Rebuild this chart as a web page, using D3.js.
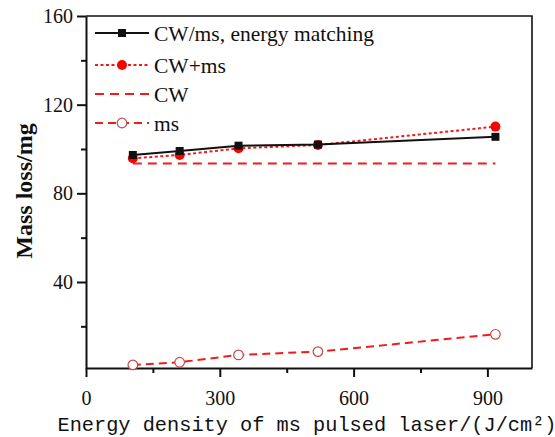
<!DOCTYPE html>
<html lang="en">
<head>
<meta charset="UTF-8">
<title>Mass loss vs energy density</title>
<script src="https://d3js.org/d3.v7.min.js"></script>
<style>
  body { margin: 0; background: #fff; }
  svg { display: block; }
  .tick text { font-family: "Liberation Serif", "Times New Roman", serif; font-size: 20px; fill: #111; }
  .legend text { font-family: "Liberation Serif", "Times New Roman", serif; font-size: 21.5px; fill: #111; }
</style>
</head>
<body>
<svg width="555" height="437"></svg>
<script>
// energy density of ms laser (J/cm2)
const energy = [105, 210, 342, 520, 918];
const cwMsMatching = [97.3, 99.1, 101.5, 102.0, 105.5];
const cwPlusMs = [95.8, 97.3, 100.3, 101.8, 110.1];
const cwOnly = [93.5, 93.5, 93.5, 93.5, 93.5];
const msOnly = [2.6, 3.8, 7.1, 8.6, 16.4];

const xTicks = [0, 300, 600, 900];
const yTicks = [40, 80, 120, 160];

const width = 555, height = 437;
const margin = { top: 16, right: 23, bottom: 69, left: 86 };

const svg = d3.select("svg");

const x = d3.scaleLinear().domain([0, 1000]).range([margin.left, width - margin.right]);
const y = d3.scaleLinear().domain([1.2, 160]).range([height - margin.bottom, margin.top]);

const red = "#f21b1b";

// frame (top + right)
svg.append("path")
    .attr("d", `M${x(0)},${y(160)}H${x(1000)}V${y(1.2)}`)
    .attr("fill", "none")
    .attr("stroke", "#111")
    .attr("stroke-width", 1.6);

// minor ticks
const xAxisMinor = d3.axisBottom(x).tickValues([150, 450, 750]).tickSize(5).tickFormat("");
const yAxisMinor = d3.axisLeft(y).tickValues([20, 60, 100, 140]).tickSize(5).tickFormat("");

const xAxis = d3.axisBottom(x).tickValues(xTicks).tickSize(9).tickSizeOuter(0).tickPadding(6);
const yAxis = d3.axisLeft(y).tickValues(yTicks).tickSize(9).tickSizeOuter(0).tickPadding(4);

function styleAxis(g) {
  g.select(".domain").attr("stroke", "#111").attr("stroke-width", 2);
  g.selectAll(".tick line").attr("stroke", "#111").attr("stroke-width", 2);
}

svg.append("g").attr("transform", `translate(0,${y(1.2)})`).call(xAxisMinor).call(styleAxis)
    .select(".domain").remove();
svg.append("g").attr("transform", `translate(${x(0)},0)`).call(yAxisMinor).call(styleAxis)
    .select(".domain").remove();
svg.append("g").attr("transform", `translate(0,${y(1.2)})`).call(xAxis).call(styleAxis)
    .call(g => g.selectAll(".tick text").attr("dy", "1.1em"));
svg.append("g").attr("transform", `translate(${x(0)},0)`).call(yAxis).call(styleAxis);

// axis titles
svg.append("text")
    .attr("x", 307).attr("y", 431)
    .attr("text-anchor", "middle")
    .style("font-family", "'Liberation Mono', 'Courier New', monospace")
    .style("font-size", "20.3px")
    .attr("fill", "#111")
    .text("Energy density of ms pulsed laser/(J/cm²)");

svg.append("text")
    .attr("transform", "translate(32,191) rotate(-90)")
    .attr("text-anchor", "middle")
    .style("font-family", "'Liberation Serif', 'Times New Roman', serif")
    .style("font-size", "24px")
    .style("font-weight", "bold")
    .attr("fill", "#111")
    .text("Mass loss/mg");

const line = vals => d3.line().x((d, i) => x(energy[i])).y(d => y(d))(vals);

const series = [
  { name: "CW/ms, energy matching", vals: cwMsMatching, stroke: "#111", dash: null, marker: "square" },
  { name: "CW+ms", vals: cwPlusMs, stroke: red, dash: "3,2.5", marker: "dot" },
  { name: "CW", vals: cwOnly, stroke: red, dash: "9,6", marker: null },
  { name: "ms", vals: msOnly, stroke: red, dash: "8,5", marker: "open" }
];

function drawMarker(g, kind, cx, cy) {
  if (kind === "square") {
    g.append("rect").attr("x", cx - 4).attr("y", cy - 4).attr("width", 8).attr("height", 8).attr("fill", "#111");
  } else if (kind === "dot") {
    g.append("circle").attr("cx", cx).attr("cy", cy).attr("r", 5).attr("fill", "#ff0000");
  } else if (kind === "open") {
    g.append("circle").attr("cx", cx).attr("cy", cy).attr("r", 4.8)
        .attr("fill", "#fff").attr("stroke", "#c84848").attr("stroke-width", 1.2);
  }
}

// draw in reverse so black line is on top
series.slice().reverse().forEach(s => {
  const g = svg.append("g");
  g.append("path")
      .attr("d", line(s.vals))
      .attr("fill", "none")
      .attr("stroke", s.stroke)
      .attr("stroke-width", 2)
      .attr("stroke-dasharray", s.dash);
  if (s.marker) s.vals.forEach((v, i) => drawMarker(g, s.marker, x(energy[i]), y(v)));
});

// legend
const legend = svg.append("g").attr("class", "legend");
const rowY = [33, 65, 94, 123];
series.forEach((s, i) => {
  const g = legend.append("g").attr("transform", `translate(0,${rowY[i]})`);
  g.append("line")
      .attr("x1", 95).attr("x2", 149)
      .attr("stroke", s.stroke)
      .attr("stroke-width", 2)
      .attr("stroke-dasharray", s.dash);
  if (s.marker) drawMarker(g, s.marker, 122, 0);
  g.append("text").attr("x", 154).attr("dy", "0.35em").text(s.name);
});
</script>
</body>
</html>
